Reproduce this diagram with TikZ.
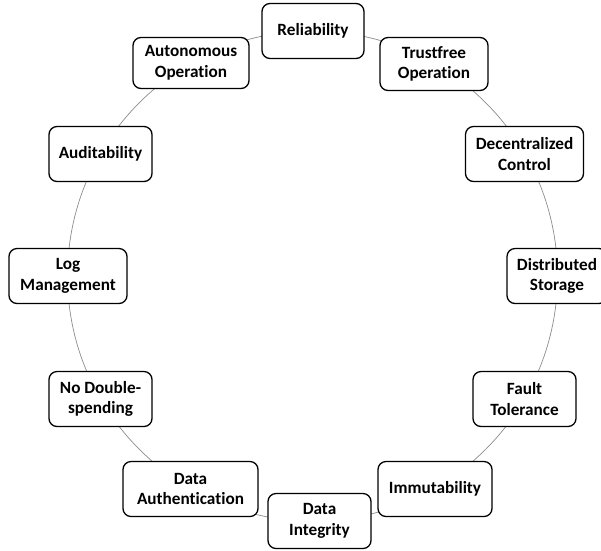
\documentclass[tikz,border=0pt]{standalone}
\usepackage{fontspec}
\setmainfont[Ligatures={NoCommon}]{Carlito}
\begin{document}
\begin{tikzpicture}[x=1pt,y=-1pt,
  ring/.style={draw=black!45,line width=0.7pt},
  prop/.style={draw=black,line width=1.3pt,fill=white,rounded corners=8pt,
    align=center,inner sep=0pt,minimum height=55pt,
    font=\fontsize{17.2}{20.5}\selectfont\bfseries}]
\useasboundingbox (0,0) rectangle (601,550);
\coordinate (hub) at (312.5,276);
\draw[ring] (hub) circle (245pt);
\node[prop,minimum width=102pt] (rel) at (313,31) {Reliability};
\node[prop,minimum width=108pt,minimum height=53pt] (trust) at (434,64) {Trustfree\\Operation};
\node[prop,minimum width=118pt] (dec) at (524.5,154) {Decentralized\\Control};
\node[prop,minimum width=100pt] (dist) at (557,276) {Distributed\\Storage};
\node[prop,minimum width=103pt] (fault) at (524.5,399) {Fault\\Tolerance};
\node[prop,minimum width=114pt] (imm) at (435,489) {Immutability};
\node[prop,minimum width=103pt] (integ) at (319.5,521) {Data\\Integrity};
\node[prop,minimum width=135pt] (auth) at (190.5,489) {Data\\Authentication};
\node[prop,minimum width=103pt] (nods) at (100.5,399) {No Double-\\spending};
\node[prop,minimum width=118pt] (log) at (68,276) {Log\\Management};
\node[prop,minimum width=103pt] (audit) at (100.5,154) {Auditability};
\node[prop,minimum width=116pt,minimum height=51pt] (auto) at (191,63) {Autonomous\\Operation};
\end{tikzpicture}
\end{document}
